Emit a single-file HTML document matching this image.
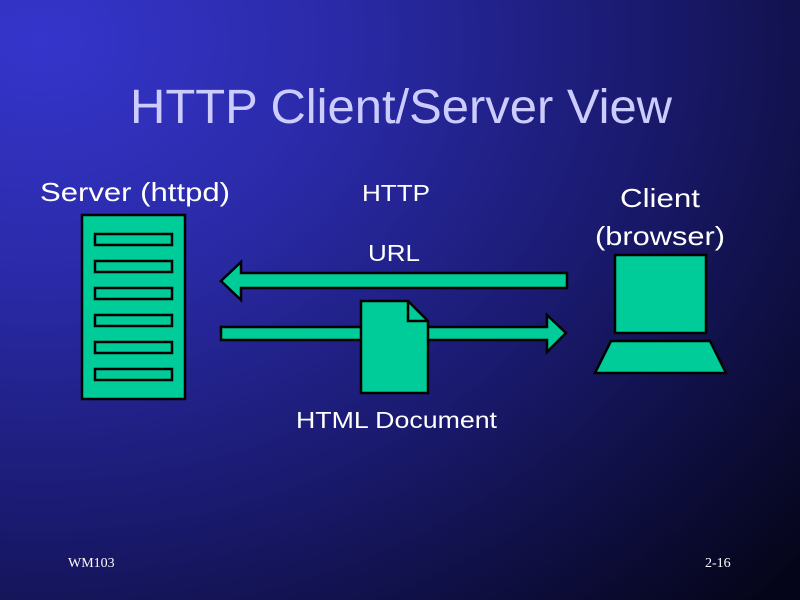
<!DOCTYPE html>
<html><head><meta charset="utf-8"><style>
html,body{margin:0;padding:0;width:800px;height:600px;overflow:hidden}
body{background:radial-gradient(ellipse 1000px 800px at 40px 40px,#3535cc 0%,#2a2aa8 30%,#1a1a70 60%,#05051a 100%)}
</style></head><body>
<svg width="800" height="600" xmlns="http://www.w3.org/2000/svg" style="position:absolute;left:0;top:0">
<g font-family="Liberation Sans, sans-serif">
<text x="130" y="123" font-size="48" fill="#ccccff" textLength="542" lengthAdjust="spacingAndGlyphs">HTTP Client/Server View</text>
<g fill="#fff" font-size="26">
<text x="40" y="201" textLength="190" lengthAdjust="spacingAndGlyphs">Server (httpd)</text>
<text x="362" y="201" font-size="23" textLength="68" lengthAdjust="spacingAndGlyphs">HTTP</text>
<text x="620" y="207" textLength="80" lengthAdjust="spacingAndGlyphs">Client</text>
<text x="595" y="245" textLength="130" lengthAdjust="spacingAndGlyphs">(browser)</text>
<text x="368" y="261" font-size="23" textLength="52" lengthAdjust="spacingAndGlyphs">URL</text>
<text x="296" y="428" font-size="23" textLength="201" lengthAdjust="spacingAndGlyphs">HTML Document</text>
</g>
</g>
<g fill="#00cc99" stroke="#000" stroke-width="2.5" stroke-linejoin="miter">
<rect x="82" y="215" width="103" height="184"/>
<rect x="95" y="234" width="77" height="11"/>
<rect x="95" y="261" width="77" height="11"/>
<rect x="95" y="288" width="77" height="11"/>
<rect x="95" y="315" width="77" height="11"/>
<rect x="95" y="342" width="77" height="11"/>
<rect x="95" y="369" width="77" height="11"/>
<polygon points="221,281 241,262 241,273 567,273 567,288 241,288 241,300"/>
<polygon points="221,327 547,327 547,315 566,333 547,352 547,340 221,340"/>
<polygon points="361,301 408,301 428,321 428,393 361,393"/>
<polyline points="408,301 408,321 428,321" fill="none"/>
<rect x="615" y="255" width="91" height="78"/>
<polygon points="611,341 710,341 726,373 595,373"/>
</g>
<g font-family="Liberation Serif, serif" font-size="14" fill="#fff">
<text x="68" y="567">WM103</text>
<text x="705" y="567">2-16</text>
</g>
</svg>
</body></html>
